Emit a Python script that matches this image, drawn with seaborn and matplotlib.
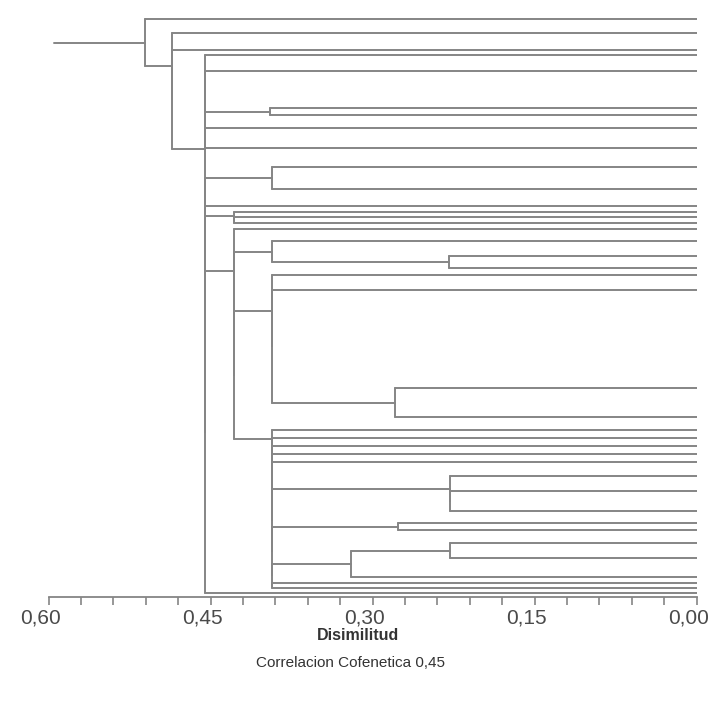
import matplotlib
matplotlib.use("Agg")
import matplotlib.pyplot as plt
import matplotlib.transforms as mtransforms
import numpy as np
import pandas as pd
import seaborn as sns
from matplotlib.ticker import MultipleLocator

# Vertical row of every leaf (top of the panel = 0)
leaf_rows = [19, 33, 50, 55, 71, 108, 115, 128, 148, 167, 189, 206, 212, 217,
             223, 229, 241, 256, 268, 275, 290, 388, 417, 430, 438, 446, 454,
             462, 476, 491, 511, 523, 530, 543, 558, 577, 583, 588, 593]

# Agglomeration steps: ids below len(leaf_rows) are leaves,
# larger ids are the clusters formed by earlier steps (in order)
merge_a = [5, 9, 17, 16, 21, 20, 19, 29, 28, 31, 33, 49, 36, 50, 48, 47, 27,
           26, 25, 24, 23, 45, 42, 15, 13, 12, 7, 39, 4, 3, 62, 64, 11, 40,
           68, 2, 1, 0]
merge_b = [6, 10, 18, 41, 22, 43, 44, 30, 46, 32, 34, 35, 37, 51, 52, 53, 54,
           55, 56, 57, 58, 59, 60, 61, 14, 63, 8, 65, 66, 67, 38, 69, 70, 71,
           72, 73, 74, 75]
merge_height = [0.395, 0.393, 0.229, 0.393, 0.279, 0.393, 0.393, 0.228,
                0.228, 0.276, 0.228, 0.320, 0.393, 0.393, 0.393, 0.393,
                0.393, 0.393, 0.393, 0.393, 0.393, 0.428, 0.428, 0.428,
                0.428, 0.428, 0.455, 0.455, 0.455, 0.455, 0.455, 0.455,
                0.455, 0.455, 0.455, 0.486, 0.486, 0.511]
root_tail = 0.595

tick_values = [0.60, 0.45, 0.30, 0.15, 0.00]
tick_labels = ["0,60", "0,45", "0,30", "0,15", "0,00"]

# Build the elbow segments of the dendrogram
n_leaves = len(leaf_rows)
row_of = list(leaf_rows) + [0.0] * len(merge_a)
height_of = [0.0] * n_leaves + [0.0] * len(merge_a)
records = []
seg = 0


def add_segment(xs, ys):
    global seg
    for x, y in zip(xs, ys):
        records.append({"seg": seg, "dis": x, "row": y})
    seg += 1


for k, (a, b, h) in enumerate(zip(merge_a, merge_b, merge_height)):
    node = n_leaves + k
    ya, yb = row_of[a], row_of[b]
    add_segment([height_of[a], h], [ya, ya])
    add_segment([height_of[b], h], [yb, yb])
    add_segment([h, h], [ya, yb])
    row_of[node] = (ya + yb) / 2.0
    height_of[node] = h

root = n_leaves + len(merge_a) - 1
add_segment([height_of[root], root_tail], [row_of[root], row_of[root]])
segments = pd.DataFrame(records)

sns.set_theme(style="white")
plt.rcParams["font.family"] = ["Liberation Sans", "DejaVu Sans"]

W, H = 724, 705
fig = plt.figure(figsize=(W / 100, H / 100), dpi=100, facecolor="white")
x0, x1 = 48.5, 696.5
y_axis = 597
ax = fig.add_axes([x0 / W, (H - y_axis) / H, (x1 - x0) / W, y_axis / H])
ax.set_facecolor("white")

line_col = "#858585"
sns.lineplot(data=segments, x="dis", y="row", units="seg", estimator=None,
             sort=False, color=line_col, linewidth=1.4, ax=ax, legend=False)

ax.set_xlim(0.60, 0.00)
ax.set_ylim(y_axis, 0)
ax.set_xlabel("")
ax.set_ylabel("")
ax.set_yticks([])
ax.set_xticks(tick_values)
ax.set_xticklabels(tick_labels)
ax.xaxis.set_minor_locator(MultipleLocator(0.03))
for side in ("top", "right", "left"):
    ax.spines[side].set_visible(False)
ax.spines["bottom"].set_color(line_col)
ax.spines["bottom"].set_linewidth(1.3)
ax.tick_params(axis="x", which="both", direction="out", length=6, width=1.2,
               color=line_col, bottom=True)
ax.tick_params(axis="x", which="major", labelsize=15, labelcolor="#4a4a4a",
               pad=2)
shift = mtransforms.ScaledTranslation(-8 / 100, 0, fig.dpi_scale_trans)
for lab in ax.get_xticklabels():
    lab.set_transform(lab.get_transform() + shift)

fig.text(358 / W, 1 - 636 / H, "Disimilitud", ha="center", va="center",
         fontsize=11.5, fontweight="bold", color="#333333")
fig.text(351 / W, 1 - 663 / H, "Correlacion Cofenetica 0,45", ha="center",
         va="center", fontsize=11, color="#333333")

fig.savefig("out.png", dpi=100, facecolor="white")
